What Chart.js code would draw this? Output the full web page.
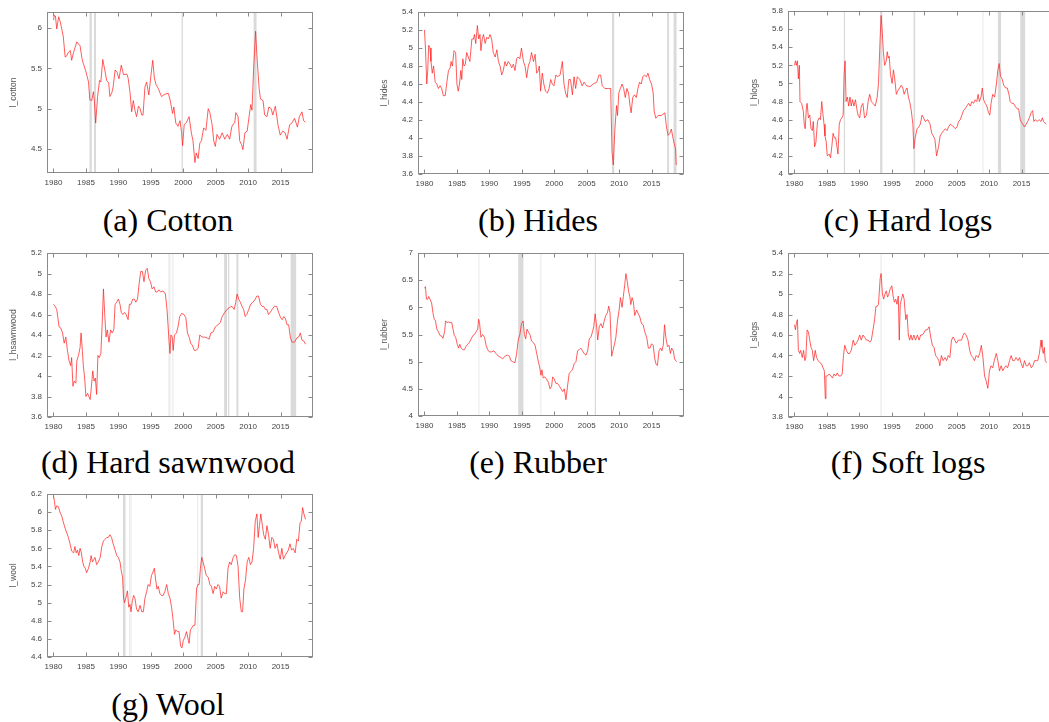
<!DOCTYPE html>
<html><head><meta charset="utf-8">
<script src="https://cdn.jsdelivr.net/npm/chart.js@4.4.1/dist/chart.umd.min.js"></script>
<style>
html,body{margin:0;padding:0;background:#fff;width:1049px;height:722px;overflow:hidden;position:relative}
canvas{position:absolute}
.cap{position:absolute;width:300px;text-align:center;font-family:"Liberation Serif",serif;font-size:32px;line-height:32px;color:#000;white-space:nowrap}
</style></head><body>
<script>
// ---------- data ----------
const xTicks = [1980, 1985, 1990, 1995, 2000, 2005, 2010, 2015];

const cotton = [[1980.0,6.1],[1980.15,6.16],[1980.3,6.15],[1980.5,5.99],[1980.8,6.14],[1981.0,6.09],[1981.25,6.0],[1981.5,5.9],[1981.8,5.64],[1982.0,5.65],[1982.3,5.7],[1982.6,5.72],[1982.8,5.6],[1983.1,5.7],[1983.6,5.83],[1984.1,5.78],[1984.4,5.62],[1984.6,5.56],[1985.0,5.46],[1985.4,5.33],[1985.6,5.11],[1985.9,5.1],[1986.15,5.21],[1986.3,5.1],[1986.5,4.82],[1986.8,5.15],[1987.1,5.35],[1987.3,5.33],[1987.6,5.61],[1987.95,5.46],[1988.2,5.35],[1988.5,5.32],[1988.7,5.15],[1989.0,5.2],[1989.2,5.27],[1989.5,5.48],[1989.8,5.45],[1990.1,5.37],[1990.45,5.54],[1990.8,5.42],[1991.3,5.43],[1991.5,5.38],[1991.8,5.2],[1992.05,4.96],[1992.3,5.1],[1992.55,4.98],[1992.8,4.9],[1993.1,5.03],[1993.35,5.0],[1993.6,4.92],[1993.8,4.92],[1994.1,5.27],[1994.35,5.33],[1994.7,5.17],[1995.0,5.4],[1995.3,5.6],[1995.55,5.38],[1995.8,5.3],[1996.15,5.25],[1996.65,5.15],[1997.2,5.18],[1997.7,5.19],[1998.0,5.1],[1998.35,4.94],[1998.55,5.02],[1998.85,4.82],[1999.2,4.78],[1999.5,4.85],[1999.75,4.7],[1999.9,4.54],[2000.15,4.8],[2000.5,4.83],[2000.9,4.9],[2001.25,4.7],[2001.5,4.6],[2001.8,4.33],[2002.0,4.45],[2002.3,4.38],[2002.55,4.57],[2002.8,4.6],[2003.15,4.76],[2003.5,4.73],[2003.85,5.0],[2004.1,4.95],[2004.45,4.8],[2004.7,4.6],[2004.95,4.53],[2005.2,4.68],[2005.6,4.62],[2006.0,4.7],[2006.4,4.62],[2006.8,4.68],[2007.15,4.62],[2007.5,4.78],[2007.95,4.83],[2008.1,4.95],[2008.45,4.9],[2008.7,4.6],[2009.0,4.55],[2009.2,4.49],[2009.5,4.7],[2009.85,4.72],[2010.15,4.9],[2010.4,5.05],[2010.6,4.98],[2010.85,5.5],[2011.15,5.96],[2011.4,5.6],[2011.7,5.25],[2011.9,5.12],[2012.3,5.1],[2012.55,4.92],[2012.9,4.9],[2013.2,5.02],[2013.55,5.0],[2013.8,4.92],[2014.2,5.03],[2014.6,4.8],[2014.95,4.67],[2015.35,4.72],[2015.7,4.7],[2016.0,4.62],[2016.4,4.8],[2016.75,4.82],[2017.15,4.88],[2017.6,4.77],[2017.9,4.9],[2018.3,4.96],[2018.55,4.85],[2018.85,4.83]];
const cottonBands = [[1985.55,1985.9],[1986.25,1986.55],[1999.75,1999.95],[2010.85,2011.3]];
const cottonBandsLight = [];
const cottonYTicks = [4.5, 5, 5.5, 6];

const hides = [[1980.0,5.2],[1980.15,5.0],[1980.35,4.6],[1980.5,4.75],[1980.65,5.03],[1980.85,5.0],[1981.0,4.85],[1981.2,4.72],[1981.4,4.8],[1981.65,4.62],[1981.9,4.6],[1982.15,4.55],[1982.4,4.58],[1982.65,4.55],[1982.9,4.47],[1983.2,4.47],[1983.45,4.62],[1983.7,4.75],[1983.95,4.78],[1984.1,4.85],[1984.3,4.8],[1984.55,4.97],[1984.8,4.95],[1985.0,4.6],[1985.2,4.52],[1985.4,4.6],[1985.6,4.75],[1985.75,4.65],[1985.9,4.88],[1986.1,4.8],[1986.3,4.82],[1986.5,4.95],[1986.75,4.9],[1987.0,4.85],[1987.3,5.1],[1987.55,5.1],[1987.7,5.15],[1987.9,5.05],[1988.15,5.25],[1988.35,5.1],[1988.55,5.15],[1988.7,4.97],[1988.9,5.1],[1989.1,5.15],[1989.35,5.05],[1989.6,5.12],[1989.85,5.1],[1990.1,5.15],[1990.35,5.1],[1990.6,4.95],[1990.9,4.9],[1991.15,4.98],[1991.4,4.85],[1991.65,4.8],[1991.9,4.7],[1992.15,4.75],[1992.4,4.85],[1992.65,4.8],[1992.9,4.85],[1993.2,4.82],[1993.45,4.78],[1993.7,4.82],[1993.95,4.75],[1994.2,4.88],[1994.45,4.9],[1994.7,4.88],[1994.95,5.0],[1995.25,4.85],[1995.5,4.8],[1995.75,4.67],[1996.0,4.8],[1996.25,4.85],[1996.5,4.95],[1996.8,4.85],[1997.05,4.93],[1997.3,4.72],[1997.55,4.75],[1997.7,4.8],[1997.9,4.52],[1998.15,4.72],[1998.4,4.6],[1998.65,4.52],[1998.95,4.5],[1999.2,4.55],[1999.45,4.65],[1999.7,4.6],[1999.95,4.58],[2000.25,4.7],[2000.5,4.68],[2000.9,4.7],[2001.25,4.85],[2001.5,4.6],[2001.75,4.5],[2002.0,4.45],[2002.25,4.65],[2002.5,4.65],[2002.8,4.48],[2003.05,4.68],[2003.3,4.55],[2003.55,4.68],[2003.95,4.65],[2004.3,4.58],[2004.6,4.62],[2005.0,4.58],[2005.5,4.57],[2006.0,4.6],[2006.55,4.62],[2006.9,4.7],[2007.15,4.7],[2007.4,4.58],[2007.8,4.55],[2008.35,4.55],[2008.7,4.55],[2008.9,3.85],[2009.1,3.7],[2009.35,4.1],[2009.6,4.36],[2009.75,4.25],[2009.95,4.5],[2010.2,4.55],[2010.45,4.6],[2010.7,4.55],[2010.95,4.45],[2011.2,4.55],[2011.45,4.5],[2011.7,4.35],[2011.85,4.28],[2012.1,4.45],[2012.35,4.48],[2012.65,4.45],[2012.9,4.55],[2013.15,4.62],[2013.4,4.6],[2013.65,4.68],[2013.9,4.7],[2014.2,4.68],[2014.45,4.72],[2014.7,4.65],[2015.0,4.6],[2015.25,4.5],[2015.4,4.3],[2015.65,4.22],[2016.0,4.25],[2016.5,4.25],[2017.05,4.28],[2017.3,4.12],[2017.55,4.03],[2017.8,4.05],[2018.05,4.1],[2018.3,4.0],[2018.55,3.92],[2018.7,3.88],[2018.8,3.7]];
const hidesBands = [[2008.9,2009.25],[2017.4,2017.7],[2018.4,2018.85]];
const hidesBandsLight = [];
const hidesYTicks = [3.6,3.8,4,4.2,4.4,4.6,4.8,5,5.2,5.4];

const hlogs = [[1980.0,5.2],[1980.15,5.25],[1980.3,5.2],[1980.45,5.25],[1980.6,5.05],[1980.75,5.2],[1980.85,4.8],[1981.1,4.78],[1981.35,4.7],[1981.5,4.55],[1981.65,4.5],[1981.85,4.75],[1981.95,4.78],[1982.15,4.62],[1982.35,4.65],[1982.55,4.5],[1982.75,4.48],[1982.9,4.58],[1983.1,4.3],[1983.3,4.35],[1983.55,4.58],[1983.8,4.62],[1984.0,4.6],[1984.2,4.8],[1984.4,4.65],[1984.55,4.55],[1984.7,4.42],[1984.9,4.35],[1985.05,4.2],[1985.35,4.22],[1985.55,4.18],[1985.75,4.3],[1985.95,4.45],[1986.15,4.4],[1986.35,4.4],[1986.55,4.3],[1986.7,4.22],[1986.9,4.55],[1987.1,4.6],[1987.3,4.62],[1987.5,4.65],[1987.65,5.1],[1987.8,5.25],[1987.95,4.8],[1988.15,4.85],[1988.35,4.75],[1988.55,4.85],[1988.75,4.75],[1988.95,4.82],[1989.15,4.75],[1989.4,4.82],[1989.6,4.72],[1989.8,4.65],[1990.05,4.62],[1990.3,4.75],[1990.55,4.78],[1990.8,4.62],[1991.1,4.65],[1991.35,4.8],[1991.6,4.88],[1991.85,4.8],[1992.1,4.78],[1992.45,4.75],[1992.75,4.85],[1992.95,5.0],[1993.2,5.5],[1993.35,5.75],[1993.5,5.6],[1993.7,5.35],[1993.9,5.2],[1994.15,5.25],[1994.3,5.35],[1994.45,5.28],[1994.6,5.3],[1994.8,5.1],[1995.05,5.0],[1995.25,5.15],[1995.45,5.05],[1995.7,4.88],[1995.95,4.92],[1996.2,4.95],[1996.45,4.98],[1996.7,4.95],[1996.9,4.88],[1997.1,4.92],[1997.35,4.95],[1997.55,4.85],[1997.75,4.8],[1998.0,4.7],[1998.25,4.55],[1998.4,4.28],[1998.6,4.4],[1998.9,4.5],[1999.15,4.52],[1999.4,4.55],[1999.65,4.65],[1999.9,4.62],[2000.15,4.58],[2000.55,4.6],[2000.9,4.55],[2001.15,4.45],[2001.4,4.42],[2001.65,4.38],[2001.9,4.2],[2002.2,4.3],[2002.45,4.42],[2002.7,4.45],[2003.0,4.48],[2003.25,4.5],[2003.5,4.48],[2003.75,4.52],[2004.0,4.55],[2004.4,4.53],[2004.8,4.5],[2005.05,4.52],[2005.3,4.58],[2005.55,4.6],[2005.8,4.65],[2006.05,4.7],[2006.3,4.72],[2006.55,4.75],[2006.85,4.78],[2007.1,4.75],[2007.35,4.8],[2007.6,4.78],[2007.85,4.82],[2008.1,4.8],[2008.3,4.88],[2008.5,4.8],[2008.75,4.85],[2008.95,4.95],[2009.15,4.82],[2009.4,4.78],[2009.65,4.75],[2009.9,4.68],[2010.1,4.65],[2010.3,4.78],[2010.55,4.88],[2010.85,4.85],[2011.1,4.98],[2011.35,5.15],[2011.55,5.22],[2011.75,5.08],[2012.0,5.05],[2012.25,4.98],[2012.55,4.95],[2012.8,4.95],[2013.05,4.88],[2013.25,4.8],[2013.5,4.78],[2013.75,4.78],[2014.0,4.75],[2014.3,4.72],[2014.55,4.72],[2014.8,4.6],[2015.0,4.57],[2015.2,4.55],[2015.45,4.52],[2015.7,4.55],[2015.95,4.58],[2016.2,4.62],[2016.5,4.68],[2016.7,4.7],[2016.9,4.58],[2017.1,4.6],[2017.4,4.58],[2017.7,4.6],[2018.0,4.58],[2018.2,4.62],[2018.4,4.58],[2018.8,4.55]];
const hlogsBands = [[1987.6,1987.8],[1993.2,1993.55],[1998.35,1998.6],[2011.35,2011.85],[2014.8,2015.55]];
const hlogsBandsLight = [[2008.95,2009.1]];
const hlogsYTicks = [4,4.2,4.4,4.6,4.8,5,5.2,5.4,5.6,5.8];

const hsawnwood = [[1980.0,4.7],[1980.25,4.68],[1980.5,4.65],[1980.65,4.58],[1980.85,4.48],[1981.1,4.47],[1981.4,4.42],[1981.65,4.32],[1981.9,4.38],[1982.15,4.25],[1982.4,4.15],[1982.65,4.1],[1982.8,4.18],[1983.0,3.9],[1983.2,3.95],[1983.45,3.93],[1983.6,4.15],[1983.85,4.2],[1984.1,4.28],[1984.25,4.42],[1984.45,4.25],[1984.6,4.1],[1984.8,3.98],[1985.0,3.8],[1985.25,3.83],[1985.45,3.8],[1985.65,3.77],[1985.85,3.9],[1986.05,4.05],[1986.25,3.95],[1986.45,3.98],[1986.65,3.82],[1986.85,4.2],[1987.05,4.18],[1987.3,4.22],[1987.5,4.5],[1987.7,4.85],[1987.9,4.6],[1988.1,4.38],[1988.3,4.45],[1988.55,4.33],[1988.8,4.45],[1989.05,4.42],[1989.3,4.45],[1989.5,4.7],[1989.75,4.72],[1990.0,4.75],[1990.25,4.7],[1990.45,4.62],[1990.7,4.6],[1990.95,4.62],[1991.2,4.6],[1991.5,4.55],[1991.7,4.7],[1991.95,4.7],[1992.2,4.75],[1992.45,4.75],[1992.7,4.72],[1992.95,4.75],[1993.2,4.9],[1993.45,5.02],[1993.7,5.02],[1993.95,4.92],[1994.2,5.03],[1994.45,5.05],[1994.7,4.95],[1994.95,4.92],[1995.2,4.85],[1995.5,4.87],[1995.75,4.82],[1996.0,4.82],[1996.25,4.84],[1996.5,4.82],[1996.9,4.83],[1997.25,4.8],[1997.5,4.65],[1997.75,4.4],[1997.95,4.22],[1998.1,4.4],[1998.3,4.38],[1998.45,4.25],[1998.65,4.4],[1998.95,4.42],[1999.2,4.48],[1999.45,4.58],[1999.75,4.61],[2000.1,4.6],[2000.4,4.57],[2000.65,4.42],[2000.9,4.38],[2001.15,4.32],[2001.4,4.3],[2001.7,4.25],[2001.95,4.25],[2002.3,4.27],[2002.55,4.4],[2002.9,4.38],[2003.3,4.38],[2003.7,4.37],[2004.0,4.36],[2004.25,4.42],[2004.6,4.43],[2004.95,4.48],[2005.35,4.5],[2005.7,4.52],[2006.0,4.58],[2006.4,4.62],[2006.75,4.65],[2007.15,4.67],[2007.5,4.68],[2007.85,4.65],[2008.1,4.72],[2008.3,4.8],[2008.55,4.75],[2008.8,4.72],[2009.05,4.68],[2009.3,4.65],[2009.55,4.58],[2009.8,4.6],[2010.1,4.65],[2010.4,4.7],[2010.75,4.72],[2011.1,4.75],[2011.35,4.78],[2011.6,4.78],[2011.9,4.7],[2012.15,4.68],[2012.4,4.68],[2012.65,4.65],[2012.9,4.65],[2013.15,4.6],[2013.4,4.62],[2013.7,4.65],[2014.05,4.68],[2014.4,4.68],[2014.7,4.62],[2015.0,4.57],[2015.25,4.55],[2015.5,4.58],[2015.75,4.56],[2016.0,4.5],[2016.25,4.5],[2016.5,4.38],[2016.75,4.33],[2017.15,4.33],[2017.5,4.37],[2017.8,4.38],[2018.05,4.42],[2018.3,4.35],[2018.6,4.34],[2018.85,4.31]];
const hsawnwoodBands = [[2006.3,2006.75],[2006.9,2007.1],[2008.2,2008.5],[2016.55,2017.4]];
const hsawnwoodBandsLight = [[1997.7,1998.05],[1998.3,1998.5]];
const hsawnwoodYTicks = [3.6,3.8,4,4.2,4.4,4.6,4.8,5,5.2];

const rubber = [[1980.0,6.35],[1980.15,6.38],[1980.3,6.15],[1980.5,6.15],[1980.65,6.2],[1980.85,6.15],[1981.1,6.08],[1981.3,5.9],[1981.5,5.78],[1981.7,5.75],[1981.9,5.6],[1982.15,5.55],[1982.4,5.48],[1982.65,5.47],[1982.85,5.43],[1983.1,5.55],[1983.25,5.75],[1983.45,5.72],[1983.7,5.73],[1983.95,5.72],[1984.2,5.72],[1984.4,5.6],[1984.6,5.48],[1984.8,5.45],[1985.05,5.32],[1985.25,5.25],[1985.45,5.32],[1985.65,5.25],[1985.9,5.22],[1986.15,5.22],[1986.4,5.28],[1986.65,5.32],[1986.9,5.35],[1987.2,5.42],[1987.45,5.48],[1987.7,5.5],[1987.95,5.55],[1988.2,5.6],[1988.35,5.78],[1988.5,5.7],[1988.7,5.45],[1988.95,5.5],[1989.25,5.45],[1989.5,5.3],[1989.75,5.22],[1990.0,5.18],[1990.35,5.18],[1990.7,5.2],[1991.0,5.15],[1991.4,5.1],[1991.75,5.08],[1992.05,5.05],[1992.4,5.1],[1992.75,5.12],[1993.1,5.1],[1993.3,5.02],[1993.6,5.0],[1993.95,4.98],[1994.2,5.15],[1994.45,5.4],[1994.7,5.5],[1994.95,5.7],[1995.2,5.75],[1995.4,5.5],[1995.6,5.42],[1995.8,5.6],[1996.0,5.55],[1996.25,5.5],[1996.5,5.38],[1996.8,5.35],[1997.05,5.3],[1997.3,5.15],[1997.55,5.0],[1997.75,4.9],[1997.95,4.75],[1998.1,4.85],[1998.3,4.7],[1998.55,4.72],[1998.8,4.68],[1999.1,4.62],[1999.35,4.5],[1999.6,4.55],[1999.75,4.72],[2000.0,4.68],[2000.25,4.6],[2000.5,4.6],[2000.8,4.55],[2001.05,4.5],[2001.3,4.45],[2001.55,4.5],[2001.8,4.3],[2002.05,4.55],[2002.3,4.78],[2002.55,4.82],[2002.8,4.85],[2003.1,4.97],[2003.35,5.0],[2003.6,5.2],[2003.85,5.22],[2004.1,5.25],[2004.35,5.2],[2004.6,5.15],[2004.9,5.12],[2005.15,5.2],[2005.4,5.42],[2005.65,5.45],[2005.9,5.55],[2006.1,5.65],[2006.3,5.88],[2006.5,5.7],[2006.7,5.4],[2006.95,5.65],[2007.2,5.7],[2007.45,5.62],[2007.7,5.75],[2007.95,5.85],[2008.2,5.9],[2008.4,6.02],[2008.6,5.9],[2008.85,5.1],[2009.05,5.2],[2009.25,5.3],[2009.5,5.45],[2009.75,5.75],[2010.0,5.95],[2010.2,6.18],[2010.45,6.0],[2010.65,6.2],[2010.85,6.4],[2011.05,6.62],[2011.25,6.48],[2011.45,6.3],[2011.65,6.2],[2011.8,6.05],[2012.0,6.18],[2012.2,6.1],[2012.4,5.85],[2012.7,5.95],[2012.95,5.88],[2013.2,5.82],[2013.45,5.7],[2013.7,5.68],[2013.95,5.55],[2014.25,5.45],[2014.5,5.25],[2014.75,5.25],[2015.0,5.33],[2015.25,5.3],[2015.5,5.05],[2015.7,4.95],[2015.9,4.93],[2016.15,5.2],[2016.4,5.25],[2016.6,5.2],[2016.8,5.3],[2017.0,5.68],[2017.2,5.45],[2017.45,5.28],[2017.7,5.3],[2017.9,5.15],[2018.1,5.25],[2018.35,5.2],[2018.55,5.05],[2018.85,5.0]];
const rubberBands = [[1994.45,1995.25],[2006.25,2006.4]];
const rubberBandsLight = [[1988.3,1988.45],[1997.85,1998.0]];
const rubberYTicks = [4,4.5,5,5.5,6,6.5,7];

const slogs = [[1980.0,4.7],[1980.15,4.65],[1980.3,4.72],[1980.45,4.75],[1980.6,4.45],[1980.8,4.42],[1980.95,4.45],[1981.2,4.38],[1981.4,4.45],[1981.6,4.35],[1981.75,4.38],[1981.95,4.65],[1982.15,4.63],[1982.35,4.55],[1982.55,4.48],[1982.75,4.45],[1982.95,4.35],[1983.2,4.45],[1983.4,4.38],[1983.65,4.35],[1983.9,4.33],[1984.15,4.32],[1984.4,4.28],[1984.6,4.25],[1984.75,3.98],[1984.85,4.2],[1985.05,4.2],[1985.35,4.22],[1985.6,4.2],[1985.85,4.18],[1986.1,4.22],[1986.35,4.2],[1986.6,4.23],[1986.85,4.2],[1987.15,4.2],[1987.35,4.22],[1987.55,4.4],[1987.75,4.5],[1988.0,4.45],[1988.25,4.42],[1988.5,4.42],[1988.75,4.45],[1989.05,4.55],[1989.3,4.5],[1989.55,4.52],[1989.8,4.55],[1990.05,4.6],[1990.3,4.55],[1990.55,4.6],[1990.8,4.58],[1991.1,4.55],[1991.35,4.55],[1991.6,4.53],[1991.85,4.55],[1992.1,4.65],[1992.35,4.75],[1992.55,4.88],[1992.75,4.88],[1992.95,4.9],[1993.2,5.15],[1993.35,5.2],[1993.55,5.0],[1993.75,4.95],[1993.95,5.0],[1994.15,5.03],[1994.35,4.97],[1994.55,5.0],[1994.75,5.05],[1995.0,5.08],[1995.2,4.98],[1995.4,4.92],[1995.6,4.95],[1995.8,4.9],[1996.0,4.98],[1996.15,4.55],[1996.3,4.9],[1996.5,4.95],[1996.7,5.0],[1996.9,4.95],[1997.15,4.75],[1997.35,4.8],[1997.55,4.6],[1997.75,4.55],[1997.95,4.6],[1998.15,4.55],[1998.4,4.6],[1998.65,4.55],[1998.95,4.6],[1999.2,4.55],[1999.45,4.6],[1999.7,4.6],[1999.95,4.62],[2000.2,4.65],[2000.45,4.65],[2000.75,4.68],[2001.0,4.58],[2001.25,4.5],[2001.5,4.48],[2001.75,4.4],[2002.0,4.38],[2002.25,4.35],[2002.4,4.3],[2002.65,4.4],[2002.9,4.35],[2003.2,4.38],[2003.45,4.35],[2003.7,4.4],[2003.95,4.38],[2004.2,4.55],[2004.45,4.58],[2004.7,4.55],[2004.95,4.52],[2005.25,4.55],[2005.5,4.55],[2005.75,4.55],[2006.0,4.6],[2006.2,4.62],[2006.45,4.6],[2006.75,4.55],[2007.0,4.45],[2007.25,4.4],[2007.5,4.38],[2007.75,4.35],[2008.0,4.4],[2008.3,4.38],[2008.55,4.42],[2008.8,4.5],[2009.05,4.38],[2009.3,4.2],[2009.55,4.15],[2009.8,4.08],[2010.05,4.25],[2010.3,4.3],[2010.55,4.28],[2010.8,4.35],[2011.1,4.42],[2011.35,4.35],[2011.6,4.25],[2011.85,4.3],[2012.1,4.25],[2012.35,4.28],[2012.6,4.3],[2012.85,4.28],[2013.15,4.35],[2013.4,4.4],[2013.65,4.35],[2013.9,4.35],[2014.15,4.38],[2014.45,4.35],[2014.7,4.38],[2014.95,4.32],[2015.2,4.28],[2015.45,4.35],[2015.7,4.3],[2015.95,4.3],[2016.2,4.33],[2016.5,4.28],[2016.75,4.3],[2017.0,4.35],[2017.25,4.35],[2017.5,4.35],[2017.75,4.42],[2018.0,4.55],[2018.15,4.48],[2018.35,4.42],[2018.5,4.48],[2018.65,4.35],[2018.85,4.33]];
const slogsBands = [];
const slogsBandsLight = [[1993.25,1993.4]];
const slogsYTicks = [3.8,4,4.2,4.4,4.6,4.8,5,5.2,5.4];

const wool = [[1980.0,6.18],[1980.15,6.12],[1980.3,6.03],[1980.5,6.07],[1980.75,6.06],[1981.0,6.0],[1981.3,5.95],[1981.55,5.88],[1981.8,5.82],[1982.05,5.77],[1982.3,5.72],[1982.55,5.65],[1982.8,5.57],[1983.1,5.55],[1983.3,5.62],[1983.5,5.55],[1983.7,5.58],[1983.9,5.52],[1984.1,5.6],[1984.3,5.55],[1984.5,5.45],[1984.7,5.4],[1984.9,5.38],[1985.1,5.33],[1985.4,5.38],[1985.65,5.45],[1985.8,5.52],[1986.0,5.45],[1986.25,5.48],[1986.4,5.5],[1986.65,5.42],[1986.9,5.45],[1987.2,5.5],[1987.45,5.62],[1987.7,5.68],[1987.95,5.7],[1988.2,5.72],[1988.45,5.72],[1988.7,5.75],[1988.95,5.72],[1989.2,5.65],[1989.5,5.58],[1989.75,5.52],[1990.0,5.5],[1990.25,5.45],[1990.45,5.35],[1990.65,5.28],[1990.8,5.05],[1990.95,5.0],[1991.15,5.05],[1991.4,5.13],[1991.6,4.95],[1991.8,4.98],[1991.95,4.9],[1992.15,5.02],[1992.35,5.08],[1992.55,5.05],[1992.8,4.93],[1993.05,4.9],[1993.35,4.97],[1993.6,4.9],[1993.85,4.9],[1994.1,5.05],[1994.35,5.12],[1994.6,5.2],[1994.85,5.18],[1995.1,5.3],[1995.4,5.35],[1995.55,5.38],[1995.75,5.25],[1995.95,5.15],[1996.15,5.18],[1996.4,5.1],[1996.65,5.08],[1996.9,5.08],[1997.15,5.12],[1997.45,5.2],[1997.7,5.1],[1997.95,5.05],[1998.2,4.95],[1998.45,4.8],[1998.65,4.65],[1998.85,4.7],[1999.1,4.68],[1999.35,4.68],[1999.6,4.52],[1999.8,4.5],[2000.0,4.58],[2000.25,4.62],[2000.5,4.68],[2000.8,4.58],[2000.9,4.55],[2001.1,4.7],[2001.3,4.72],[2001.55,4.75],[2001.8,4.75],[2002.05,5.15],[2002.25,5.2],[2002.45,5.2],[2002.65,5.38],[2002.85,5.5],[2003.05,5.45],[2003.3,5.38],[2003.55,5.3],[2003.85,5.28],[2004.1,5.2],[2004.35,5.18],[2004.6,5.1],[2004.85,5.18],[2005.1,5.15],[2005.35,5.2],[2005.6,5.18],[2005.85,5.05],[2006.15,5.12],[2006.4,5.1],[2006.65,5.1],[2006.9,5.38],[2007.15,5.45],[2007.4,5.42],[2007.7,5.5],[2007.95,5.53],[2008.2,5.52],[2008.45,5.4],[2008.7,5.05],[2008.95,4.9],[2009.15,4.9],[2009.35,5.15],[2009.6,5.25],[2009.85,5.45],[2010.1,5.5],[2010.35,5.42],[2010.6,5.45],[2010.85,5.6],[2011.1,5.9],[2011.35,5.98],[2011.55,5.72],[2011.75,5.85],[2011.95,5.98],[2012.2,5.85],[2012.4,5.75],[2012.65,5.7],[2012.9,5.85],[2013.15,5.75],[2013.4,5.6],[2013.65,5.72],[2013.9,5.7],[2014.15,5.6],[2014.45,5.65],[2014.7,5.55],[2014.95,5.48],[2015.2,5.6],[2015.45,5.48],[2015.7,5.52],[2015.95,5.55],[2016.2,5.58],[2016.45,5.65],[2016.7,5.58],[2016.95,5.6],[2017.25,5.55],[2017.5,5.7],[2017.75,5.68],[2018.0,5.88],[2018.2,5.9],[2018.4,6.05],[2018.6,5.98],[2018.85,5.92]];
const woolBands = [[1990.7,1991.1],[2002.7,2003.05]];
const woolBandsLight = [[1991.65,1991.8],[1991.85,1991.95],[2002.15,2002.3]];
const woolYTicks = [4.4,4.6,4.8,5,5.2,5.4,5.6,5.8,6,6.2];

// ---------- panels (layout only) ----------
const panels = [
  {series: cotton, bands: cottonBands, light: cottonBandsLight, yTicks: cottonYTicks, yMin: 4.2, yMax: 6.2, title: 'l_cotton', caption: '(a) Cotton', left: 47, top: 12, h: 161, capX: 168, capTop: 204},
  {series: hides, bands: hidesBands, light: hidesBandsLight, yTicks: hidesYTicks, yMin: 3.6, yMax: 5.4, title: 'l_hides', caption: '(b) Hides', left: 418, top: 12, h: 162, capX: 538, capTop: 204},
  {series: hlogs, bands: hlogsBands, light: hlogsBandsLight, yTicks: hlogsYTicks, yMin: 4, yMax: 5.8, title: 'l_hlogs', caption: '(c) Hard logs', left: 788, top: 11, h: 163, capX: 908, capTop: 204},
  {series: hsawnwood, bands: hsawnwoodBands, light: hsawnwoodBandsLight, yTicks: hsawnwoodYTicks, yMin: 3.6, yMax: 5.2, title: 'l_hsawnwood', caption: '(d) Hard sawnwood', left: 47, top: 253, h: 164, capX: 168, capTop: 446},
  {series: rubber, bands: rubberBands, light: rubberBandsLight, yTicks: rubberYTicks, yMin: 4, yMax: 7, title: 'l_rubber', caption: '(e) Rubber', left: 418, top: 253, h: 163, capX: 538, capTop: 446},
  {series: slogs, bands: slogsBands, light: slogsBandsLight, yTicks: slogsYTicks, yMin: 3.8, yMax: 5.4, title: 'l_slogs', caption: '(f) Soft logs', left: 788, top: 253, h: 164, capX: 908, capTop: 446},
  {series: wool, bands: woolBands, light: woolBandsLight, yTicks: woolYTicks, yMin: 4.4, yMax: 6.2, title: 'l_wool', caption: '(g) Wool', left: 47, top: 494, h: 163, capX: 168, capTop: 688}
];

const PLOT_W = 266, AXIS_W = 47, PAD_T = 10, PAD_R = 10, AXIS_H = 22;

const decor = {
  id: 'decor',
  beforeDatasetsDraw(chart, args, opts) {
    const {ctx, chartArea: a, scales: {x}} = chart;
    ctx.save();
    ctx.beginPath(); ctx.rect(a.left, a.top, a.width, a.height); ctx.clip();
    const paint = (list, col) => {
      ctx.fillStyle = col;
      list.forEach(([s, e]) => {
        const x0 = x.getPixelForValue(s), x1 = x.getPixelForValue(e);
        ctx.fillRect(x0, a.top, Math.max(x1 - x0, 1.2), a.height);
      });
    };
    paint(opts.light || [], '#ececec');
    paint(opts.bands || [], '#dadada');
    ctx.restore();
  },
  afterDatasetsDraw(chart) {
    const {ctx, chartArea: a, scales: {x, y}} = chart;
    ctx.save();
    ctx.strokeStyle = '#8a8a8a'; ctx.lineWidth = 1;
    const L = Math.round(a.left) + 0.5, R = Math.round(a.right) - 0.5;
    const T = Math.round(a.top) + 0.5, B = Math.round(a.bottom) - 0.5;
    ctx.strokeRect(L, T, R - L, B - T);
    ctx.beginPath();
    y.ticks.forEach(t => {
      const p = Math.round(y.getPixelForValue(t.value)) + 0.5;
      ctx.moveTo(L, p); ctx.lineTo(L + 4, p);
      ctx.moveTo(R, p); ctx.lineTo(R - 4, p);
    });
    x.ticks.forEach(t => {
      const p = Math.round(x.getPixelForValue(t.value)) + 0.5;
      ctx.moveTo(p, B); ctx.lineTo(p, B - 4);
      ctx.moveTo(p, T); ctx.lineTo(p, T + 4);
    });
    ctx.stroke();
    ctx.restore();
  }
};

const tickFont = {family: 'Liberation Sans', size: 8};

panels.forEach(p => {
  const cv = document.createElement('canvas');
  const W = AXIS_W + PLOT_W + PAD_R, H = PAD_T + p.h + AXIS_H;
  cv.width = W; cv.height = H;
  cv.style.width = W + 'px'; cv.style.height = H + 'px';
  cv.style.left = (p.left - AXIS_W) + 'px';
  cv.style.top = (p.top - PAD_T) + 'px';
  document.body.appendChild(cv);

  const cap = document.createElement('div');
  cap.className = 'cap';
  cap.textContent = p.caption;
  cap.style.left = (p.capX - 150) + 'px';
  cap.style.top = p.capTop + 'px';
  document.body.appendChild(cap);

  new Chart(cv, {
    type: 'line',
    data: {
      datasets: [{
        data: p.series.map(([x, y]) => ({x, y})),
        borderColor: 'rgba(255,30,30,0.72)',
        borderWidth: 1,
        pointRadius: 0,
        tension: 0,
        fill: false
      }]
    },
    options: {
      responsive: false,
      animation: false,
      devicePixelRatio: 1,
      layout: {padding: {top: PAD_T, right: PAD_R, left: 0, bottom: 0}},
      plugins: {legend: {display: false}, tooltip: {enabled: false}, decor: {bands: p.bands, light: p.light}},
      scales: {
        x: {
          type: 'linear', min: 1979, max: 2020,
          afterBuildTicks: s => { s.ticks = xTicks.map(v => ({value: v})); },
          afterFit: s => { s.height = AXIS_H; },
          grid: {display: false, drawTicks: false},
          border: {display: false},
          ticks: {padding: 5, color: '#444', font: tickFont, maxRotation: 0, autoSkip: false, callback: v => String(v)}
        },
        y: {
          type: 'linear', min: p.yMin, max: p.yMax,
          afterBuildTicks: s => { s.ticks = p.yTicks.map(v => ({value: v})); },
          afterFit: s => { s.width = AXIS_W; },
          grid: {display: false, drawTicks: false},
          border: {display: false},
          ticks: {padding: 5, color: '#444', font: tickFont, autoSkip: false, callback: v => String(+Number(v).toFixed(2))},
          title: {display: true, text: p.title, color: '#555', font: {family: 'Liberation Sans', size: 8.5}, padding: {top: 9, bottom: 0}}
        }
      }
    },
    plugins: [decor]
  });
});
</script>
</body></html>
